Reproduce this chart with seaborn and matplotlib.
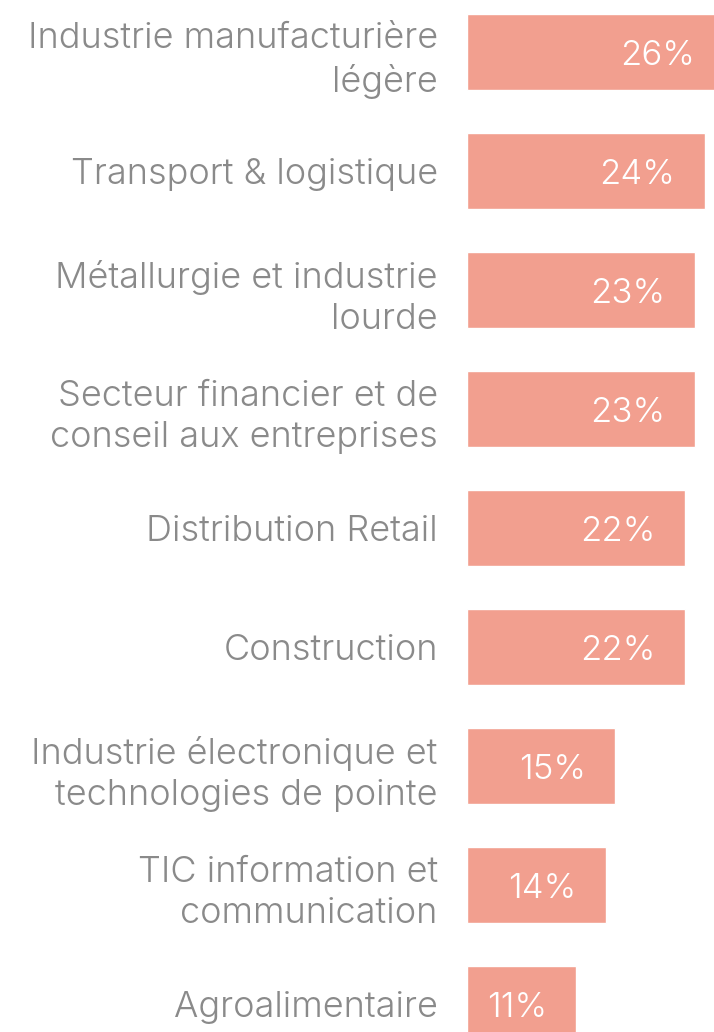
import matplotlib.pyplot as plt
import seaborn as sns

# sector labels and share of companies (%)
sectors = [
    "Industrie manufacturière\nlégère",
    "Transport & logistique",
    "Métallurgie et industrie\nlourde",
    "Secteur financier et de\nconseil aux entreprises",
    "Distribution Retail",
    "Construction",
    "Industrie électronique et\ntechnologies de pointe",
    "TIC information et\ncommunication",
    "Agroalimentaire",
]
values = [26, 24, 23, 23, 22, 22, 15, 14, 11]

sns.set_style('white')
plt.rcParams['font.family'] = ['Inter', 'DejaVu Sans']

fig = plt.figure(figsize=(7.14, 10.32), dpi=100)
ax = fig.add_axes([467 / 714, 0, 1 - 467 / 714, 1])

sns.barplot(x=values, y=sectors, orient='h', color='#f29f8f', saturation=1,
            width=0.64, ax=ax)

ax.set_xlim(0, 24.95)
ax.set_ylim(8.235, -0.437)
sns.despine(ax=ax, left=True, bottom=True)
ax.set_xticks([])
ax.set_xlabel('')
ax.set_ylabel('')
ax.tick_params(axis='y', length=0, pad=21, labelsize=26, labelcolor='#8a8a8a')
for lbl in ax.get_yticklabels():
    lbl.set_fontweight(300)
    lbl.set_linespacing(1.33)

# value labels, right aligned a bit inside the bar end
for i, v in enumerate(values):
    ax.annotate(f"{v}%", xy=(v, i), xytext=(-21, -3), textcoords='offset points',
                ha='right', va='center', color='white', fontsize=25,
                fontweight=300, annotation_clip=False)

fig.savefig('out.png', dpi=100)
